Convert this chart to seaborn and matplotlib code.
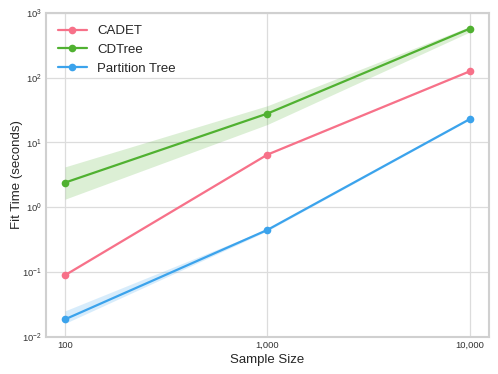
import numpy as np
import pandas as pd
import matplotlib
matplotlib.use("Agg")
import matplotlib.pyplot as plt
import matplotlib.ticker as mticker
import seaborn as sns

# data
sample_sizes = [100, 1000, 10000]
methods = ["CADET", "CDTree", "Partition Tree"]
cadet_time = [0.089, 6.5, 126]
cdtree_time = [2.4, 28, 575]
ptree_time = [0.0185, 0.446, 23]
# confidence bands (lower, upper)
cadet_lo = [0.087, 6.4, 124]
cadet_hi = [0.091, 6.6, 128]
cdtree_lo = [1.33, 19, 510]
cdtree_hi = [4.2, 37, 620]
ptree_lo = [0.016, 0.43, 22.5]
ptree_hi = [0.025, 0.46, 23.5]

df = pd.DataFrame({
    "Sample Size": sample_sizes * 3,
    "Fit Time": cadet_time + cdtree_time + ptree_time,
    "lo": cadet_lo + cdtree_lo + ptree_lo,
    "hi": cadet_hi + cdtree_hi + ptree_hi,
    "Method": [m for m in methods for _ in sample_sizes],
})

sns.set_theme(style="whitegrid")
plt.rcParams["font.family"] = ["Liberation Sans", "DejaVu Sans"]
palette = sns.color_palette("husl", 3)

fig = plt.figure(figsize=(4.98, 3.74), dpi=100)
ax = fig.add_axes([0.092, 0.1, 0.89, 0.865])

for i, m in enumerate(methods):
    sub = df[df["Method"] == m]
    ax.fill_between(sub["Sample Size"], sub["lo"], sub["hi"], color=palette[i], alpha=0.2, linewidth=0)

sns.lineplot(data=df, x="Sample Size", y="Fit Time", hue="Method", palette=palette,
             marker="o", markersize=5.5, markeredgewidth=0, linewidth=1.6, ax=ax)

ax.set_xscale("log")
ax.set_yscale("log")
ax.set_ylim(1e-2, 1e3)
ax.set_xlim(10 ** 1.905, 10 ** 4.095)
ax.set_xticks(sample_sizes)
ax.xaxis.set_major_formatter(mticker.FuncFormatter(lambda v, p: "{:,}".format(int(round(v)))))
ax.xaxis.set_minor_locator(mticker.NullLocator())
ax.yaxis.set_minor_locator(mticker.NullLocator())
ax.tick_params(axis="both", labelsize=6.8, colors="#333333", length=0, pad=3)
ax.set_xlabel("Sample Size", fontsize=9.5, labelpad=3)
ax.set_ylabel("Fit Time (seconds)", fontsize=9.5, labelpad=-1)
for s in ax.spines.values():
    s.set_color("#d0d0d0")
    s.set_linewidth(1.5)
ax.grid(color="#dcdcdc", linewidth=0.9)

leg = ax.legend(loc="upper left", frameon=False, fontsize=9.5, handlelength=2.2)

fig.savefig("out.png", dpi=100)
